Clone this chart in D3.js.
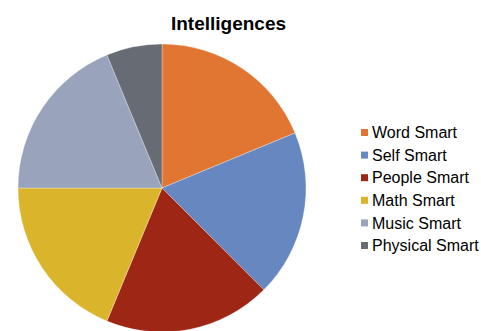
<!DOCTYPE html>
<html>
<head>
<meta charset="utf-8">
<script src="https://cdn.jsdelivr.net/npm/d3@7"></script>
<style>
  html, body { margin: 0; padding: 0; background: #fff; }
  svg { display: block; }
</style>
</head>
<body>
<svg id="chart" width="481" height="331"></svg>
<script>
const title = "Intelligences";
const categories = ["Word Smart", "Self Smart", "People Smart", "Math Smart", "Music Smart", "Physical Smart"];
const values = [3, 3, 3, 3, 3, 1];
const colors = ["#E07631", "#6787C0", "#9E2614", "#DAB42A", "#99A3BB", "#676C74"];

const svg = d3.select("#chart");
const cx = 162, cy = 188, r = 144;

svg.append("text")
  .attr("x", 228.5).attr("y", 29.5)
  .attr("text-anchor", "middle")
  .attr("font-family", "Liberation Sans, Arial, sans-serif")
  .attr("font-weight", "bold")
  .attr("font-size", "19px")
  .attr("fill", "#000")
  .text(title);

const data = categories.map((c, i) => ({ name: c, value: values[i], color: colors[i] }));
const pie = d3.pie().value(d => d.value).sort(null);
const arc = d3.arc().innerRadius(0).outerRadius(r);

svg.append("g")
  .attr("transform", `translate(${cx},${cy})`)
  .selectAll("path")
  .data(pie(data))
  .join("path")
  .attr("d", arc)
  .attr("fill", d => d.data.color)
  .attr("stroke", "#ffffff")
  .attr("stroke-width", 0.5)
  .attr("stroke-opacity", 0.6);

const legendY = d3.scalePoint().domain(categories).range([132.5, 245.5]);
const lg = svg.append("g");
const rows = lg.selectAll("g").data(data).join("g")
  .attr("transform", d => `translate(361,${legendY(d.name)})`);
rows.append("rect")
  .attr("x", 0).attr("y", -3.5).attr("width", 7).attr("height", 7)
  .attr("fill", d => d.color);
rows.append("text")
  .attr("x", 11).attr("y", 5.7)
  .attr("font-family", "Liberation Sans, Arial, sans-serif")
  .attr("font-size", "16px")
  .attr("fill", "#000")
  .text(d => d.name);
</script>
</body>
</html>
